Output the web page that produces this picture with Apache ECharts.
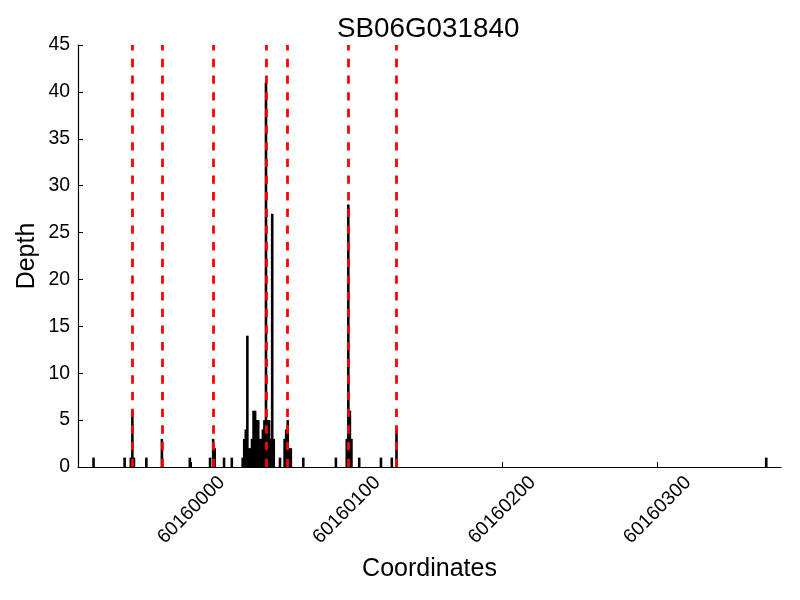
<!DOCTYPE html>
<html><head><meta charset="utf-8">
<script src="https://cdn.jsdelivr.net/npm/echarts@6/dist/echarts.min.js"></script>
<style>html,body{margin:0;padding:0;background:#fff}#c{width:800px;height:600px}</style>
</head><body><div id="c"></div>
<script>
const chartTitle = 'SB06G031840';
const positions = [60159937, 60159957, 60159961, 60159962, 60159963, 60159971, 60159981, 60159999,
  60160012, 60160014, 60160015, 60160021, 60160026, 60160033, 60160034, 60160035, 60160036,
  60160037, 60160038, 60160039, 60160040, 60160041, 60160042, 60160043, 60160044, 60160045,
  60160046, 60160047, 60160048, 60160049, 60160050, 60160051, 60160052, 60160053, 60160057,
  60160060, 60160061, 60160062, 60160063, 60160064, 60160072, 60160093, 60160100, 60160101,
  60160102, 60160103, 60160108, 60160122, 60160129, 60160132, 60160370];
const depths = [1, 1, 1, 6, 1, 1, 3, 1,
  1, 3, 2, 1, 1, 1, 3, 4, 14,
  2, 2, 3, 6, 6, 5, 5, 3, 3,
  4, 5, 41, 5, 5, 3, 27, 3, 1,
  3, 4, 5, 2, 2, 1, 1, 3, 28,
  6, 3, 1, 1, 1, 4, 1];
const markerPositions = [60159962, 60159981, 60160014, 60160048, 60160062, 60160101, 60160132];
const xTickValues = [60160000, 60160100, 60160200, 60160300];
const xName = 'Coordinates';
const yName = 'Depth';

const font = '"Liberation Sans", Arial, sans-serif';
const chart = echarts.init(document.getElementById('c'), null, {renderer: 'canvas'});
chart.setOption({
  animation: false,
  backgroundColor: '#fff',
  title: {
    text: chartTitle, left: 332, top: 10,
    textStyle: {fontSize: 27.8, fontWeight: 'normal', color: '#000', fontFamily: font}
  },
  grid: {left: 78, right: 19, top: 45, bottom: 133, containLabel: false},
  xAxis: {
    type: 'value', min: 60159927, max: 60160379.5,
    name: xName, nameLocation: 'middle', nameGap: 90, nameMoveOverlap: false,
    nameTextStyle: {fontSize: 25, color: '#000', fontFamily: font},
    axisLine: {show: true, lineStyle: {color: '#000', width: 1.2}},
    axisTick: {show: true, inside: true, length: 5, customValues: xTickValues, lineStyle: {color: '#000', width: 1}},
    axisLabel: {customValues: xTickValues, rotate: 45, align: 'center', verticalAlign: 'middle', margin: 43,
      fontSize: 19.4, color: '#000', fontFamily: font, formatter: v => String(v)},
    splitLine: {show: false}
  },
  yAxis: {
    type: 'value', min: 0, max: 45, interval: 5,
    name: yName, nameLocation: 'middle', nameGap: 38, nameRotate: 90, nameMoveOverlap: false,
    nameTextStyle: {fontSize: 25, color: '#000', fontFamily: font},
    axisLine: {show: true, lineStyle: {color: '#000', width: 1.2}},
    axisTick: {show: true, inside: true, length: 5, lineStyle: {color: '#000', width: 1}},
    axisLabel: {margin: 8, fontSize: 19.4, color: '#000', fontFamily: font},
    splitLine: {show: false}
  },
  series: [{
    type: 'bar',
    data: positions.map((p, i) => [p, depths[i]]),
    barWidth: 2.6,
    itemStyle: {color: '#000', borderWidth: 0},
    emphasis: {disabled: true},
    markLine: {
      silent: true, symbol: ['none', 'none'], z: 10,
      label: {show: false},
      lineStyle: {color: '#ff0000', width: 2.78, type: [8.33, 8.33], opacity: 1},
      emphasis: {disabled: true},
      data: markerPositions.map(v => ({xAxis: v}))
    }
  }]
});
</script>
</body></html>
